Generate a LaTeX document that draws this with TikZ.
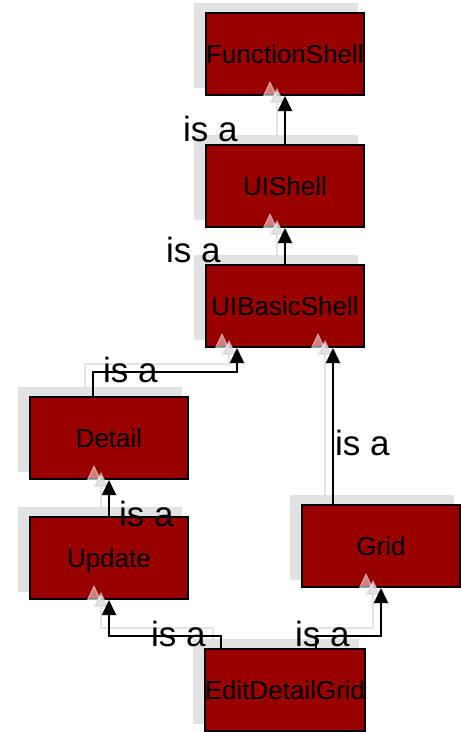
\documentclass[tikz,border=0pt]{standalone}
\usepackage{fontspec}
\setmainfont{Liberation Sans}
\usetikzlibrary{arrows.meta, shadows}

\definecolor{boxred}{RGB}{153,0,0}
\definecolor{shadowgray}{RGB}{226,226,226}

\tikzset{
  classbox/.style={draw=black, line width=2pt, fill=boxred,
    minimum width=158pt, minimum height=82pt, inner sep=0pt,
    font=\fontsize{26}{30}\selectfont, text height=19pt, text depth=0pt,
    general shadow={fill=shadowgray, shadow xshift=-8.5pt, shadow yshift=8.5pt,
      shadow scale=1.035}},
  isa/.style={draw=black, line width=2pt, -{Triangle[width=14pt,length=15pt]}},
  isashadow/.style={draw=black!14, line width=2.5pt, opacity=0.75,
    -{Triangle[width=14pt,length=15pt]}, transform canvas={xshift=-8pt, yshift=8pt}},
  tipshadow/.style={draw=white, line width=1pt, opacity=0.5,
    -{Triangle[width=14pt,length=15pt]}, transform canvas={xshift=-15pt, yshift=15pt}},
  isalabel/.style={font=\fontsize{35}{40}\selectfont, inner sep=0pt, anchor=base west}
}

\begin{document}
\begin{tikzpicture}[x=1pt, y=-1pt]
        \useasboundingbox (0,0) rectangle (461,732);
        % Classes
        \node[classbox] (func) at (285,54) {FunctionShell};
        \node[classbox] (uishell) at (285,186) {UIShell};
        \node[classbox] (basic) at (285,306) {UIBasicShell};
        \node[classbox] (detail) at (109,438) {Detail};
        \node[classbox] (update) at (109,558) {Update};
        \node[classbox] (grid) at (381,546) {Grid};
        \node[classbox] (edg) at (285,690) {EditDetailGrid};
        % Shadows of the links
        \draw[isashadow] (uishell.north) -- (func.south);
        \draw[isashadow] (basic.north) -- (uishell.south);
        \draw[isashadow] ([xshift=-16pt]detail.north) -- ++(0,-24) -| ([xshift=-48pt]basic.south);
        \draw[isashadow] ([xshift=-48pt]grid.north) -- ([xshift=48pt]basic.south);
        \draw[isashadow] (update.north) -- (detail.south);
        \draw[isashadow] ([xshift=-64pt]edg.north) -- ++(0,-12) -| (update.south);
        \draw[isashadow] ([xshift=31pt]edg.north) -- ++(0,-12) -| (grid.south);
        \draw[tipshadow] ([yshift=-15pt]func.south) -- (func.south);
        \draw[tipshadow] ([yshift=-15pt]uishell.south) -- (uishell.south);
        \draw[tipshadow] ([xshift=-48pt,yshift=-15pt]basic.south) -- ([xshift=-48pt]basic.south);
        \draw[tipshadow] ([xshift=48pt,yshift=-15pt]basic.south) -- ([xshift=48pt]basic.south);
        \draw[tipshadow] ([yshift=-15pt]detail.south) -- (detail.south);
        \draw[tipshadow] ([yshift=-15pt]update.south) -- (update.south);
        \draw[tipshadow] ([yshift=-15pt]grid.south) -- (grid.south);
        % Links
        \draw[isa] (uishell.north) -- (func.south);
        \draw[isa] (basic.north) -- (uishell.south);
        \draw[isa] ([xshift=-16pt]detail.north) -- ++(0,-24) -| ([xshift=-48pt]basic.south);
        \draw[isa] ([xshift=-48pt]grid.north) -- ([xshift=48pt]basic.south);
        \draw[isa] (update.north) -- (detail.south);
        \draw[isa] ([xshift=-64pt]edg.north) -- ++(0,-12) -| (update.south);
        \draw[isa] ([xshift=31pt]edg.north) -- ++(0,-12) -| (grid.south);
        % Labels
        \node[isalabel] (lfunc) at (183,141.5) {is a};
        \node[isalabel] (luishell) at (166,262) {is a};
        \node[isalabel] (ldetail) at (103,382.5) {is a};
        \node[isalabel] (lgrid) at (335,455) {is a};
        \node[isalabel] (lupdate) at (119,526.5) {is a};
        \node[isalabel] (ledgup) at (151,646.5) {is a};
        \node[isalabel] (ledggrid) at (295,646.5) {is a};
\end{tikzpicture}
\end{document}
